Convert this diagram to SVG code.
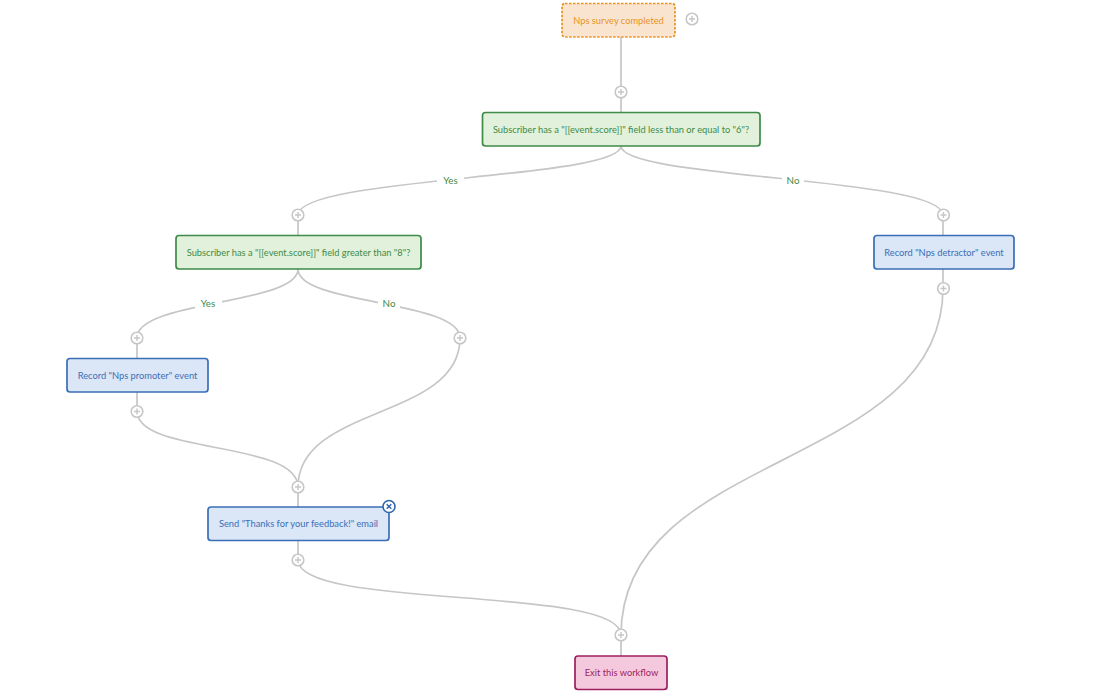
<svg xmlns="http://www.w3.org/2000/svg" width="1100" height="695" viewBox="0 0 1100 695">
<style>
text{font-family:"Lato","Open Sans","Liberation Sans",sans-serif;font-size:9.3px;text-anchor:middle}
.c{fill:none;stroke:#c6c6c6;stroke-width:1.7}
.box{stroke-width:1.7}
.g rect{fill:#e1f1dc;stroke:#3f8a46}
.g text,.lbl{fill:#3f8a46}
.b rect{fill:#dbe6f7;stroke:#3a6fb5}
.b text{fill:#3a6fb5}
.lbl{font-size:9.8px}
.plus circle{fill:#fff;stroke:#c6c6c6;stroke-width:1.6}
.plus path{stroke:#c6c6c6;stroke-width:1.4;fill:none}
</style>
<defs>
<g id="p" class="plus"><circle r="5.8"/><path d="M-3 0H3M0-3V3"/></g>
</defs>
<rect width="1100" height="695" fill="#fff"/>
<g id="connectors">
<path class="c" d="M621 37V112"/>
<path class="c" d="M621 146C621 179 298 177 298 215V235"/>
<path class="c" d="M621 146C621 179 943 177 943 215V235"/>
<path class="c" d="M298 269C298 305 137 300 137 338V358"/>
<path class="c" d="M298 269C298 305 460 300 460 338C460 420 298 405 298 487"/>
<path class="c" d="M137 392V411C137 455 298 440 298 487V507"/>
<path class="c" d="M943 269V288C943 470 621 450 621 635V656"/>
<path class="c" d="M298 541V560C298 610 621 585 621 635"/>
</g>
<g id="edge-labels">
<rect x="437" y="173" width="27" height="14" fill="#fff"/><text class="lbl" x="450.500" y="183.500">Yes</text>
<rect x="782" y="173" width="22" height="14" fill="#fff"/><text class="lbl" x="793" y="183.500">No</text>
<rect x="195" y="296" width="27" height="14" fill="#fff"/><text class="lbl" x="208" y="306.500">Yes</text>
<rect x="378" y="296" width="22" height="14" fill="#fff"/><text class="lbl" x="389" y="306.500">No</text>
</g>
<g id="node-trigger"><rect class="box" x="562" y="3.500" width="113" height="33.500" rx="3" fill="#f9e5cf" stroke="#e8941f" stroke-dasharray="2.500 1.500"/><text x="618.500" y="24" fill="#e8941f">Nps survey completed</text></g>
<g id="node-cond1" class="g"><rect class="box" x="482.500" y="112.500" width="277.500" height="33.500" rx="3"/><text x="621" y="132.500">Subscriber has a "[[event.score]]" field less than or equal to "6"?</text></g>
<g id="node-cond2" class="g"><rect class="box" x="176" y="235.500" width="245" height="33.500" rx="3"/><text x="298.500" y="255.500">Subscriber has a "[[event.score]]" field greater than "8"?</text></g>
<g id="node-detractor" class="b"><rect class="box" x="874" y="235.500" width="140" height="33.500" rx="3"/><text x="944" y="255.500">Record "Nps detractor" event</text></g>
<g id="node-promoter" class="b"><rect class="box" x="67" y="358.500" width="141" height="33.500" rx="3"/><text x="137.500" y="378.500">Record "Nps promoter" event</text></g>
<g id="node-email" class="b"><rect class="box" x="208" y="507" width="181" height="33.500" rx="3"/><text x="298.500" y="527">Send "Thanks for your feedback!" email</text>
<circle cx="389" cy="506.500" r="6" fill="#fff" stroke="#2f66ad" stroke-width="1.600"/><path d="M386.700 504.200l4.600 4.600M391.300 504.200l-4.600 4.600" stroke="#2f66ad" stroke-width="1.500"/></g>
<g id="node-exit"><rect class="box" x="575" y="656" width="92" height="33.500" rx="3" fill="#f4c9dd" stroke="#9c1f5f"/><text x="621.500" y="676" fill="#9c1f5f">Exit this workflow</text></g>
<g id="add-buttons">
<use href="#p" x="692" y="19"/><use href="#p" x="621" y="92"/><use href="#p" x="298" y="215"/><use href="#p" x="943.500" y="215"/><use href="#p" x="137" y="338"/><use href="#p" x="460" y="338"/><use href="#p" x="137" y="411.500"/><use href="#p" x="943.500" y="288.500"/><use href="#p" x="298" y="487"/><use href="#p" x="298" y="560"/><use href="#p" x="621" y="635"/>
</g>
</svg>
